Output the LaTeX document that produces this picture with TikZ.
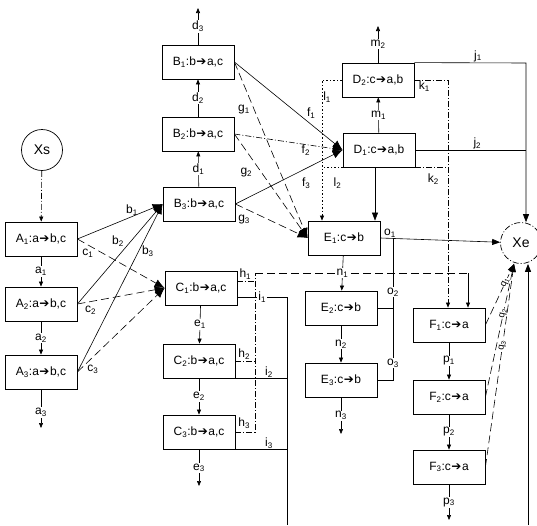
\documentclass[tikz,border=0pt]{standalone}
\usepackage{fontspec}
\setmainfont{Liberation Sans}
\newfontfamily\symfont{DejaVu Sans}
\usetikzlibrary{arrows.meta}
\newcommand{\sbs}[1]{\textsubscript{#1}}
\newcommand{\ra}{{\symfont\kern0.5pt➔\kern0.5pt}}
\tikzset{
	proc/.style={draw, line width=0.8pt, minimum width=72pt, minimum height=34pt, inner sep=1pt, font=\fontsize{12}{13}\selectfont},
	term/.style={draw, circle, line width=0.7pt, minimum size=41pt, inner sep=0pt, font=\fontsize{14}{16}\selectfont},
	lbl/.style={font=\fontsize{12}{13}\selectfont, inner sep=1pt},
	cut/.style={lbl, fill=white},
	qlbl/.style={cut, sloped, inner sep=0pt, font=\fontsize{9.5}{10}\selectfont},
	smallarr/.style={-{Triangle[length=5pt,width=4pt]}},
	midarr/.style={-{Triangle[length=8pt,width=6pt]}},
	bigarr/.style={-{Latex[length=10pt,width=8pt]}},
	dashdot/.style={dash pattern=on 6pt off 2pt on 1pt off 2pt},
	longdash/.style={dash pattern=on 8pt off 4pt},
	dotline/.style={dash pattern=on 1.5pt off 2pt},
}
\begin{document}
\begin{tikzpicture}[x=1pt,y=-1pt,line width=0.6pt]
	\useasboundingbox (0,0) rectangle (537,525);

	% start and end
	\node[term] (Xs) at (42,150) {Xs};
	\node[term, dashdot] (Xe) at (521,243) {Xe};

	% boxes
	\node[proc] (A1) at (41,239) {A\sbs{1}:a\ra b,c};
	\node[proc] (A2) at (41,304) {A\sbs{2}:a\ra b,c};
	\node[proc] (A3) at (41,372) {A\sbs{3}:a\ra b,c};
	\node[proc] (B1) at (198,62) {B\sbs{1}:b\ra a,c};
	\node[proc] (B2) at (198,134) {B\sbs{2}:b\ra a,c};
	\node[proc] (B3) at (199,204) {B\sbs{3}:b\ra a,c};
	\node[proc] (C1) at (201,288) {C\sbs{1}:b\ra a,c};
	\node[proc] (C2) at (199,361) {C\sbs{2}:b\ra a,c};
	\node[proc] (C3) at (199,432) {C\sbs{3}:b\ra a,c};
	\node[proc] (D1) at (379,150) {D\sbs{1}:c\ra a,b};
	\node[proc] (D2) at (378,80) {D\sbs{2}:c\ra a,b};
	\node[proc] (E1) at (344,238) {E\sbs{1}:c\ra b};
	\node[proc] (E2) at (341,308) {E\sbs{2}:c\ra b};
	\node[proc] (E3) at (341,380) {E\sbs{3}:c\ra b};
	\node[proc] (F1) at (449,325) {F\sbs{1}:c\ra a};
	\node[proc] (F2) at (449,397) {F\sbs{2}:c\ra a};
	\node[proc] (F3) at (449,467) {F\sbs{3}:c\ra a};

	% C to F and down
	\coordinate (hx) at (255,273);
	\coordinate (hr) at (468,273);
	\coordinate (ix) at (287,297);
	\draw[dashdot] ([yshift=7pt]C1.east) -- node[lbl, above, pos=0.45] {h\sbs{1}} ([yshift=7pt]C1.east -| hx);
	\draw[dashdot] (C2.east) -- node[lbl, above, pos=0.45] {h\sbs{2}} (C2.east -| hx);
	\draw[dashdot] (C3.east) -- node[lbl, above=2pt, pos=0.45] {h\sbs{3}} (C3.east -| hx) -- (hx);
	\draw[longdash] (hx) -- (hr);
	\draw[smallarr] (hr) -- (hr |- F1.north);
	\draw ([yshift=-9pt]C1.east) -- node[cut] {i\sbs{1}} (ix) -- (ix |- 0,525);
	\draw (C2.south east) -- node[lbl, above, pos=0.65] {i\sbs{2}} (C2.south east -| ix);
	\draw (C3.south east) -- node[lbl, above, pos=0.65] {i\sbs{3}} (C3.south east -| ix);

	% free ends
	\coordinate (a3) at (41,428);
	\coordinate (d3) at (198,8);
	\coordinate (e3) at (199,486);
	\coordinate (m2) at (378,26);
	\coordinate (n3) at (341,434);
	\coordinate (p3) at (449,520);

	% chains
	\draw[smallarr, dashdot] (Xs) -- (A1);
	\draw[smallarr] (A1) -- node[cut, pos=0.5] {a\sbs{1}} (A2);
	\draw[smallarr] (A2) -- node[cut, pos=0.5] {a\sbs{2}} (A3);
	\draw[smallarr] (A3) -- node[cut, pos=0.6] {a\sbs{3}} (a3);
	\draw[smallarr] (B3) -- node[cut] {d\sbs{1}} (B2);
	\draw[smallarr] (B2) -- node[cut] {d\sbs{2}} (B1);
	\draw[smallarr] (B1) -- node[cut, pos=0.5] {d\sbs{3}} (d3);
	\draw[smallarr] (C1) -- node[cut, pos=0.5] {e\sbs{1}} (C2);
	\draw[smallarr] (C2) -- node[cut, pos=0.5] {e\sbs{2}} (C3);
	\draw[smallarr] (C3) -- node[cut, pos=0.5] {e\sbs{3}} (e3);
	\draw[smallarr] (D1) -- node[cut] {m\sbs{1}} (D2);
	\draw[smallarr] (D2) -- node[cut, pos=0.5] {m\sbs{2}} (m2);
	\draw[smallarr] (E1) -- node[cut] {n\sbs{1}} (E2);
	\draw[smallarr] (E2) -- node[cut, pos=0.5] {n\sbs{2}} (E3);
	\draw[smallarr] (E3) -- node[cut, pos=0.5] {n\sbs{3}} (n3);
	\draw[smallarr] (F1) -- node[cut, pos=0.5] {p\sbs{1}} (F2);
	\draw[smallarr] (F2) -- node[cut, pos=0.5] {p\sbs{2}} (F3);
	\draw[smallarr] (F3) -- node[cut, pos=0.5] {p\sbs{3}} (p3);

	% A to B and C
	\draw[bigarr] (A1.east) -- node[lbl, above, pos=0.64] {b\sbs{1}} (B3.west);
	\draw[bigarr] (A2.east) -- node[lbl, above left, pos=0.56] {b\sbs{2}} (B3.west);
	\draw[bigarr] (A3.east) -- node[lbl, right=2pt, pos=0.72] {b\sbs{3}} (B3.west);
	\draw[bigarr, longdash] (A1.east) -- node[lbl, below=3pt, pos=0.12] {c\sbs{1}} (C1.west);
	\draw[bigarr, longdash] (A2.east) -- node[lbl, below=3pt, pos=0.15] {c\sbs{2}} (C1.west);
	\draw[bigarr, longdash] (A3.east) -- node[lbl, below right, pos=0.1] {c\sbs{3}} (C1.west);

	% B to D and E
	\draw[bigarr] (B1.east) -- node[lbl, above right, pos=0.66] {f\sbs{1}} (D1.west);
	\draw[bigarr, dashdot] (B2.east) -- node[lbl, below, pos=0.66, inner sep=0pt] {f\sbs{2}} (D1.west);
	\draw[bigarr] (B3.east) -- node[lbl, below=8pt, pos=0.66] {f\sbs{3}} (D1.west);
	\draw[bigarr, longdash] (B1.east) -- node[lbl, left=3pt, pos=0.27] {g\sbs{1}} (E1.west);
	\draw[bigarr, longdash] (B2.east) -- node[lbl, left=8pt, pos=0.37] {g\sbs{2}} (E1.west);
	\draw[bigarr, longdash] (B3.east) -- node[lbl, below=6pt, pos=0.12] {g\sbs{3}} (E1.west);

	% D to E, F and Xe
	\coordinate (lx) at (322,80);
	\coordinate (kx) at (448,80);
	\coordinate (jx) at (526,63);
	\draw[smallarr, dotline] (D2.west) -- (lx) -- node[lbl, right, pos=0.12] {l\sbs{1}} (lx |- E1.north);
	\draw[dotline] (D1.south west) -- node[lbl, below right, yshift=-9pt, pos=0.5] {l\sbs{2}} (lx |- D1.south west);
	\draw[smallarr, dashdot] (D2.east) -- node[lbl, below left, pos=0.5] {k\sbs{1}} (kx) -- (kx |- F1.north);
	\draw[dashdot] (D1.south east) -- node[lbl, below=5pt, pos=0.55] {k\sbs{2}} (kx |- D1.south east);
	\draw[midarr] ([xshift=-4pt]D1.south) -- ([xshift=-4pt]D1.south |- E1.north);
	\draw[midarr] (D2.north east) -- node[lbl, above, pos=0.57] {j\sbs{1}} (jx) -- (jx |- Xe.north);
	\draw (D1.east) -- node[lbl, above, pos=0.56] {j\sbs{2}} (D1.east -| jx);

	% E to Xe
	\coordinate (ox) at (393,238);
	\draw[midarr] (E1.east) -- node[lbl, above, pos=0.08] {o\sbs{1}} (Xe);
	\draw (E2.east) -- (E2.east -| ox);
	\draw (E3.east) -- (E3.east -| ox) -- node[cut, pos=0.12] {o\sbs{3}} node[cut, pos=0.62] {o\sbs{2}} (ox);

	% F to Xe
	\coordinate (qt) at ([xshift=-7pt]Xe.south);
	\coordinate (xb) at (528,525);
	\draw[midarr, longdash] (F1.east) -- node[qlbl, pos=0.7] {q\sbs{1}} (qt);
	\draw[midarr, longdash] (F2.east) -- node[qlbl, pos=0.63] {q\sbs{2}} (qt);
	\draw[midarr, longdash] (F3.east) -- node[qlbl, pos=0.6] {q\sbs{3}} (qt);
	\draw[midarr, line width=0.9pt] (xb) -- (xb |- Xe.south);
\end{tikzpicture}
\end{document}
